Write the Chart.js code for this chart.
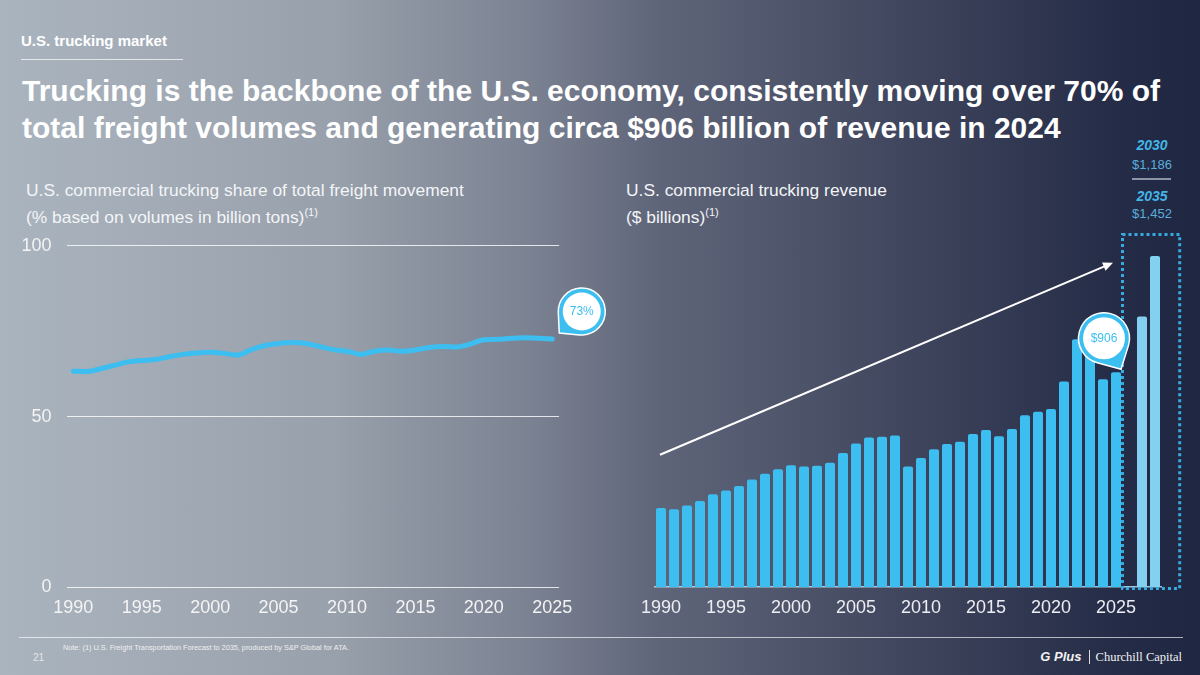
<!DOCTYPE html>
<html>
<head>
<meta charset="utf-8">
<script src="https://cdn.jsdelivr.net/npm/chart.js@4.4.1/dist/chart.umd.min.js"></script>
<style>
  html, body { margin: 0; padding: 0; }
  body {
    width: 1200px; height: 675px; overflow: hidden; position: relative;
    font-family: "Liberation Sans", Arial, sans-serif; color: #fff;
    background: linear-gradient(90deg, #aab4bf 0%, #98a0ab 28%, #7b8292 44%, #5f6579 55%, #42485f 74%, #252c47 93%, #1f2641 100%);
  }
  .abs { position: absolute; white-space: nowrap; }
  .kicker { left: 21px; top: 32px; font-size: 15px; line-height: 17px; font-weight: bold; }
  .rule1 { left: 21px; top: 59px; width: 162px; height: 1px; background: rgba(255,255,255,0.7); }
  .title { left: 22px; top: 73px; font-size: 30px; line-height: 36.7px; font-weight: bold; }
  .sub { top: 177px; font-size: 17.4px; line-height: 26.7px; color: #f3f5f7; }
  .sub sup { font-size: 11px; vertical-align: 7px; line-height: 0; }
  .fc { left: 1122px; width: 60px; text-align: center; }
  .fcy { font-size: 14px; line-height: 18px; font-weight: bold; font-style: italic; color: #44b5e8; }
  .fcv { font-size: 13px; line-height: 17px; color: #5aaedb; }
  .fcsep { left: 1132px; top: 178px; width: 39px; height: 2px; background: #8b93a5; }
  .rule2 { left: 19px; top: 637px; width: 1164px; height: 1px; background: rgba(255,255,255,0.65); }
  .note { left: 63px; top: 642.5px; font-size: 7.3px; line-height: 10px; color: #f0f0f0; }
  .page { left: 33px; top: 652px; font-size: 10px; line-height: 12px; color: #e5e5e5; }
  .logo { right: 18px; top: 649px; font-size: 12px; line-height: 16px; color: #f2f2f2; }
  .logo .plus { font-weight: bold; font-style: italic; font-size: 13px; }
  .logo .bar { display: inline-block; width: 1px; height: 14px; background: #ddd; vertical-align: -3px; margin: 0 6px 0 7px; }
  .logo .cc { font-family: "Liberation Serif", "DejaVu Serif", serif; font-size: 12.5px; }
  .box { position: absolute; }
</style>
</head>
<body>
<div class="abs kicker">U.S. trucking market</div>
<div class="abs rule1"></div>
<div class="abs title">Trucking is the backbone of the U.S. economy, consistently moving over 70% of<br>total freight volumes and generating circa $906 billion of revenue in 2024</div>

<div class="abs sub" style="left:26px">U.S. commercial trucking share of total freight movement<br>(% based on volumes in billion tons)<sup>(1)</sup></div>
<div class="abs sub" style="left:626px">U.S. commercial trucking revenue<br>($ billions)<sup>(1)</sup></div>

<div class="abs fc fcy" style="top:136px">2030</div>
<div class="abs fc fcv" style="top:156px">$1,186</div>
<div class="abs fcsep"></div>
<div class="abs fc fcy" style="top:187px">2035</div>
<div class="abs fc fcv" style="top:205px">$1,452</div>

<div class="box" style="left:0;top:219.7px;width:620px;height:410.3px"><canvas id="shareChart"></canvas></div>
<div class="box" style="left:600px;top:200px;width:600px;height:430px"><canvas id="revenueChart"></canvas></div>

<div class="abs rule2"></div>
<div class="abs note">Note: (1) U.S. Freight Transportation Forecast to 2035, produced by S&amp;P Global for ATA.</div>
<div class="abs page">21</div>
<div class="abs logo"><span class="plus">G Plus</span><span class="bar"></span><span class="cc">Churchill Capital</span></div>

<script>
// years shown on both charts
const years = [1990, 1991, 1992, 1993, 1994, 1995, 1996, 1997, 1998, 1999,
  2000, 2001, 2002, 2003, 2004, 2005, 2006, 2007, 2008, 2009,
  2010, 2011, 2012, 2013, 2014, 2015, 2016, 2017, 2018, 2019,
  2020, 2021, 2022, 2023, 2024, 2025];

// trucking share of freight tonnage (%)
const shareValues = [63.3, 63.2, 64.0, 65.0, 66.0, 66.4, 66.7, 67.5, 68.2, 68.6,
  68.8, 68.5, 68.0, 69.6, 70.8, 71.4, 71.7, 71.4, 70.5, 69.6,
  69.1, 68.2, 69.1, 69.5, 69.1, 69.5, 70.2, 70.5, 70.4, 71.2,
  72.5, 72.6, 72.9, 73.1, 72.9, 72.7];
const shareTicks = [0, 50, 100];

// trucking revenue ($ billions)
const revenueValues = [347, 341, 358, 377, 407, 423, 443, 471, 497, 516,
  534, 528, 532, 545, 588, 629, 656, 659, 664, 529,
  566, 604, 627, 637, 671, 689, 661, 693, 753, 769,
  781, 901, 1087, 1050, 911, 942];
const forecastYears = ['2030', '2035'];
const forecastValues = [1186, 1452];

const BLUE = '#3cbef1';
const LIGHT_BLUE = '#84d0f1';

Chart.defaults.font.family = '"Liberation Sans", Arial, sans-serif';
Chart.defaults.animation = false;

// little map-pin callout with the value inside
function drawPin(ctx, tipX, tipY, cx, cy, r, text) {
  const ang = Math.atan2(tipY - cy, tipX - cx);
  const d = Math.hypot(tipX - cx, tipY - cy);
  const spread = Math.acos(r / d);
  ctx.save();
  ctx.beginPath();
  ctx.moveTo(tipX, tipY);
  ctx.arc(cx, cy, r, ang + spread, ang - spread + Math.PI * 2);
  ctx.closePath();
  ctx.fillStyle = BLUE;
  ctx.fill();
  ctx.lineWidth = 1.5;
  ctx.strokeStyle = '#ffffff';
  ctx.stroke();
  ctx.beginPath();
  ctx.arc(cx, cy, r - 4.5, 0, Math.PI * 2);
  ctx.fillStyle = '#ffffff';
  ctx.fill();
  ctx.fillStyle = BLUE;
  ctx.font = '12px "Liberation Sans", Arial, sans-serif';
  ctx.textAlign = 'center';
  ctx.textBaseline = 'middle';
  ctx.fillText(text, cx, cy + 0.5);
  ctx.restore();
}

const yearLabel = (i) => (years[i] !== undefined && years[i] % 5 === 0) ? String(years[i]) : '';

// --- share line chart ---
const sharePin = {
  id: 'sharePin',
  afterDatasetsDraw(chart) {
    const pts = chart.getDatasetMeta(0).data;
    const end = pts[pts.length - 1];
    const tipX = end.x + 7, tipY = end.y - 6;
    drawPin(chart.ctx, tipX, tipY, tipX + 22.5, tipY - 21.5, 23.5,
      Math.round(shareValues[shareValues.length - 1]) + '%');
  }
};

new Chart(document.getElementById('shareChart'), {
  type: 'line',
  data: {
    labels: years,
    datasets: [{
      data: shareValues,
      borderColor: BLUE,
      borderWidth: 5,
      borderCapStyle: 'round',
      pointRadius: 0,
      cubicInterpolationMode: 'monotone',
      fill: false
    }]
  },
  options: {
    responsive: true,
    maintainAspectRatio: false,
    layout: { padding: { left: 0, right: 60.9, top: 0, bottom: 0 } },
    plugins: { legend: { display: false }, tooltip: { enabled: false } },
    scales: {
      x: {
        type: 'category',
        offset: true,
        grid: { display: false, drawTicks: false },
        border: { display: false },
        ticks: {
          autoSkip: false, maxRotation: 0, padding: 10,
          color: '#f4f4f4', font: { size: 18 },
          callback: (v, i) => yearLabel(i)
        },
        afterFit: (s) => { s.height = 43; }
      },
      y: {
        min: 0, max: 100,
        afterBuildTicks: (s) => { s.ticks = shareTicks.map(v => ({ value: v })); },
        grid: { color: 'rgba(255,255,255,0.8)', lineWidth: 1, drawTicks: false },
        border: { display: false },
        ticks: { padding: 15, color: '#f4f4f4', font: { size: 18 } },
        afterFit: (s) => { s.width = 66.5; }
      }
    }
  },
  plugins: [sharePin]
});

// --- revenue bar chart ---
const revLabels = years.map(String).concat([''], forecastYears);
const revData = revenueValues.concat([null], forecastValues);
const revColors = revenueValues.map(() => BLUE).concat([BLUE], forecastValues.map(() => LIGHT_BLUE));

const revenueExtras = {
  id: 'revenueExtras',
  afterDatasetsDraw(chart) {
    const ctx = chart.ctx;
    const xs = chart.scales.x, ys = chart.scales.y;
    const step = xs.getPixelForValue(1) - xs.getPixelForValue(0);
    const last = revenueValues.length - 1;

    // dotted box round the forecast bars
    const boxL = xs.getPixelForValue(last) + step / 2;
    const boxR = xs.getPixelForValue(revLabels.length - 1) + step * 1.9;
    const boxT = ys.getPixelForValue(Math.max(...forecastValues)) - 21.5;
    const boxB = ys.getPixelForValue(0) + 1.5;
    ctx.save();
    ctx.strokeStyle = '#38aade';
    ctx.lineWidth = 3;
    ctx.setLineDash([3, 3]);
    ctx.strokeRect(boxL, boxT, boxR - boxL, boxB - boxT);
    ctx.restore();

    // growth arrow
    const x0 = xs.getPixelForValue(0) - 1, y0 = ys.getPixelForValue(580);
    const x1 = xs.getPixelForValue(last) - 3, y1 = ys.getPixelForValue(1422);
    const a = Math.atan2(y1 - y0, x1 - x0);
    ctx.save();
    ctx.strokeStyle = '#ffffff';
    ctx.fillStyle = '#ffffff';
    ctx.lineWidth = 2;
    ctx.beginPath();
    ctx.moveTo(x0, y0);
    ctx.lineTo(x1 - 8 * Math.cos(a), y1 - 8 * Math.sin(a));
    ctx.stroke();
    ctx.beginPath();
    ctx.moveTo(x1, y1);
    ctx.lineTo(x1 - 10 * Math.cos(a) + 4.5 * Math.sin(a), y1 - 10 * Math.sin(a) - 4.5 * Math.cos(a));
    ctx.lineTo(x1 - 10 * Math.cos(a) - 4.5 * Math.sin(a), y1 - 10 * Math.sin(a) + 4.5 * Math.cos(a));
    ctx.closePath();
    ctx.fill();
    ctx.restore();

    // $906 callout on the latest bar
    const bar = chart.getDatasetMeta(0).data[last];
    const tipX = bar.x + 5, tipY = bar.y - 3;
    drawPin(ctx, tipX, tipY, tipX - 17, tipY - 31, 25.5, '$906');
  }
};

new Chart(document.getElementById('revenueChart'), {
  type: 'bar',
  data: {
    labels: revLabels,
    datasets: [{
      data: revData,
      backgroundColor: revColors,
      borderRadius: { topLeft: 2, topRight: 2 },
      borderSkipped: 'bottom',
      categoryPercentage: 1,
      barPercentage: 0.77
    }]
  },
  options: {
    responsive: true,
    maintainAspectRatio: false,
    layout: { padding: { left: 54.5, right: 38.5, top: 45, bottom: 0 } },
    plugins: { legend: { display: false }, tooltip: { enabled: false } },
    scales: {
      x: {
        type: 'category',
        offset: true,
        grid: { display: false, drawTicks: false },
        border: { display: true, color: 'rgba(190,222,242,0.85)', width: 1.5 },
        ticks: {
          autoSkip: false, maxRotation: 0, padding: 10,
          color: '#eceef2', font: { size: 18 },
          callback: (v, i) => yearLabel(i)
        },
        afterFit: (s) => { s.height = 43; }
      },
      y: { display: false, min: 0, max: 1500 }
    }
  },
  plugins: [revenueExtras]
});
</script>
</body>
</html>
